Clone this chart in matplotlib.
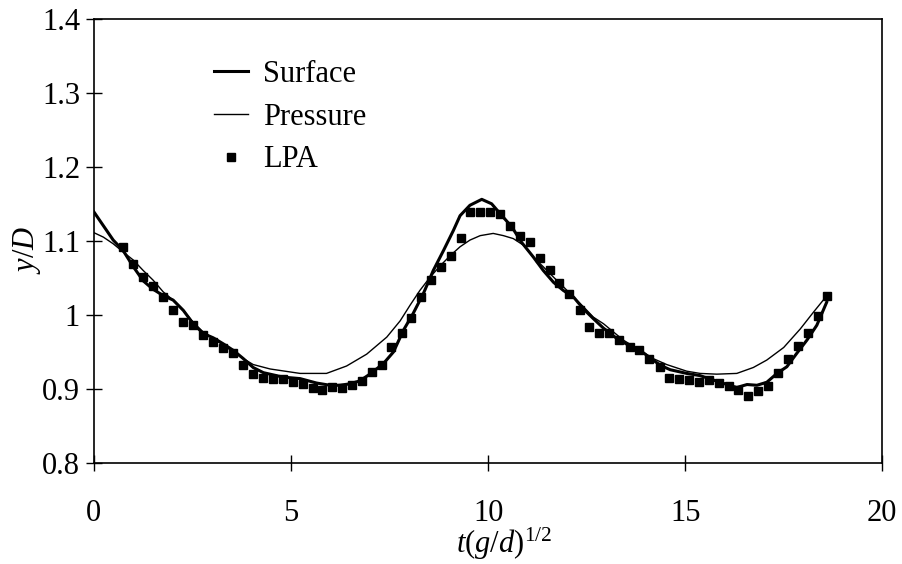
import matplotlib.pyplot as plt

plt.rcParams['font.family'] = ['Liberation Serif', 'DejaVu Serif']
plt.rcParams['mathtext.fontset'] = 'custom'
plt.rcParams['mathtext.rm'] = 'Liberation Serif'
plt.rcParams['mathtext.it'] = 'Liberation Serif:italic'

# surface gauge (thick line)
surf_t = [0, 0.49, 0.74, 1.0, 1.25, 1.49, 1.76, 2.01, 2.27, 2.52, 2.77, 3.03, 3.28, 3.54,
          3.79, 4.04, 4.3, 4.8, 5.23, 5.65, 5.99, 6.24, 6.5, 6.75, 7.0, 7.34, 7.6, 7.85,
          8.1, 8.36, 8.61, 8.87, 9.12, 9.29, 9.54, 9.84, 10.09, 10.35, 10.6, 10.85, 11.15,
          11.4, 11.66, 11.91, 12.17, 12.42, 12.67, 12.93, 13.27, 13.6, 13.86, 14.11, 14.37,
          14.62, 15.04, 15.38, 15.72, 16.06, 16.31, 16.57, 16.82, 17.07, 17.33, 17.58,
          17.83, 18.09, 18.34, 18.59]
surf_y = [1.139, 1.101, 1.087, 1.065, 1.046, 1.035, 1.026, 1.020, 1.006, 0.988, 0.975, 0.969,
          0.961, 0.952, 0.941, 0.929, 0.922, 0.916, 0.914, 0.908, 0.905, 0.905, 0.907, 0.911,
          0.920, 0.934, 0.950, 0.979, 1.002, 1.029, 1.060, 1.087, 1.114, 1.134, 1.148, 1.156,
          1.150, 1.134, 1.119, 1.098, 1.078, 1.060, 1.044, 1.033, 1.024, 1.008, 0.995, 0.982,
          0.968, 0.958, 0.952, 0.942, 0.932, 0.926, 0.921, 0.918, 0.912, 0.906, 0.902, 0.906,
          0.905, 0.909, 0.921, 0.930, 0.948, 0.966, 0.986, 1.017]

# pressure gauge (thin line)
pres_t = [0, 0.24, 0.49, 0.74, 1.0, 1.25, 1.5, 1.76, 2.01, 2.27, 2.52, 2.77, 3.03, 3.28, 3.54,
          3.79, 4.04, 4.47, 5.23, 5.9, 6.41, 6.92, 7.43, 7.77, 8.02, 8.27, 8.53, 8.78, 9.04,
          9.29, 9.54, 9.8, 10.13, 10.39, 10.64, 10.9, 11.15, 11.4, 11.66, 11.91, 12.17, 12.42,
          12.67, 12.93, 13.18, 13.43, 13.86, 14.19, 14.53, 15.04, 15.38, 15.8, 16.31, 16.73,
          17.07, 17.5, 17.92, 18.26, 18.55]
pres_y = [1.111, 1.105, 1.096, 1.085, 1.074, 1.060, 1.047, 1.031, 1.020, 1.006, 0.990, 0.977,
          0.968, 0.959, 0.950, 0.941, 0.933, 0.927, 0.921, 0.921, 0.931, 0.947, 0.970, 0.992,
          1.013, 1.033, 1.051, 1.066, 1.080, 1.092, 1.101, 1.107, 1.110, 1.107, 1.103, 1.094,
          1.078, 1.065, 1.051, 1.038, 1.024, 1.011, 0.997, 0.988, 0.977, 0.966, 0.952, 0.941,
          0.933, 0.924, 0.921, 0.920, 0.921, 0.929, 0.939, 0.956, 0.981, 1.004, 1.023]

# LPA points
lpa_t = [0.74, 1.0, 1.24, 1.49, 1.76, 2.01, 2.27, 2.52, 2.77, 3.03, 3.28, 3.54, 3.79, 4.03,
         4.28, 4.54, 4.79, 5.04, 5.3, 5.55, 5.78, 6.03, 6.29, 6.54, 6.79, 7.05, 7.3, 7.54,
         7.81, 8.05, 8.3, 8.55, 8.81, 9.05, 9.31, 9.54, 9.8, 10.05, 10.3, 10.56, 10.81, 11.07,
         11.32, 11.57, 11.81, 12.06, 12.32, 12.57, 12.82, 13.08, 13.33, 13.59, 13.84, 14.09,
         14.35, 14.58, 14.84, 15.09, 15.35, 15.6, 15.85, 16.11, 16.35, 16.6, 16.85, 17.09,
         17.36, 17.61, 17.87, 18.12, 18.38, 18.61]
lpa_y = [1.091, 1.069, 1.051, 1.039, 1.024, 1.006, 0.991, 0.986, 0.973, 0.964, 0.955, 0.948,
         0.932, 0.920, 0.915, 0.914, 0.913, 0.910, 0.907, 0.901, 0.899, 0.902, 0.901, 0.905,
         0.911, 0.923, 0.933, 0.957, 0.975, 0.996, 1.024, 1.047, 1.065, 1.080, 1.104, 1.139,
         1.139, 1.139, 1.136, 1.120, 1.107, 1.099, 1.077, 1.060, 1.043, 1.028, 1.006, 0.984,
         0.976, 0.975, 0.966, 0.957, 0.952, 0.940, 0.929, 0.915, 0.914, 0.912, 0.909, 0.912,
         0.908, 0.904, 0.898, 0.890, 0.897, 0.904, 0.921, 0.940, 0.958, 0.976, 0.998, 1.026]

fig = plt.figure(figsize=(9.03, 5.64), dpi=100)
ax = fig.add_axes([0.104, 0.179, 0.873, 0.788])

ax.plot(surf_t, surf_y, color='black', lw=2.2, label='Surface')
ax.plot(pres_t, pres_y, color='black', lw=1.0, label='Pressure')
ax.plot(lpa_t, lpa_y, 's', color='black', ms=5.5, label='LPA')

ax.set_xlim(0, 20)
ax.set_ylim(0.8, 1.4)
ax.set_xticks([0, 5, 10, 15, 20])
ax.set_xticklabels(['0', '5', '10', '15', '20'])
ax.set_yticks([0.8, 0.9, 1.0, 1.1, 1.2, 1.3, 1.4])
ax.set_yticklabels(['0.8', '0.9', '1', '1.1', '1.2', '1.3', '1.4'])
ax.tick_params(direction='inout', length=12, width=1, labelsize=22, colors='black')
ax.tick_params(axis='x', pad=20)
ax.tick_params(axis='y', pad=4)
for s in ax.spines.values():
    s.set_linewidth(1.2)

ax.set_xlabel(r'$t(g/d)^{1/2}$', fontsize=22)
ax.xaxis.set_label_coords(0.52, -0.142)
ax.set_ylabel(r'$y/D$', fontsize=22)
ax.yaxis.set_label_coords(-0.064, 0.48)

ax.legend(loc='upper left', bbox_to_anchor=(0.118, 0.969), frameon=False, fontsize=22,
          handlelength=1.1, handletextpad=0.5, labelspacing=0.45)

fig.savefig('out.png', dpi=100)
